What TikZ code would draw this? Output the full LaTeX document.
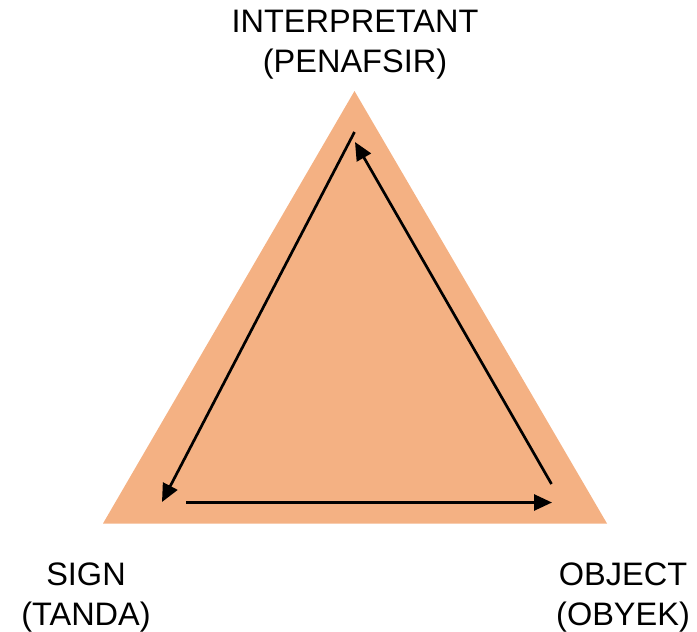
\documentclass[tikz,border=0pt]{standalone}
\usepackage{fontspec}
\setmainfont{Liberation Sans}
\usetikzlibrary{arrows.meta}
\begin{document}
\begin{tikzpicture}[x=1pt,y=-1pt,
  lbl/.style={font=\fontsize{32.5}{40}\selectfont, align=center, inner sep=0pt},
  arr/.style={line width=2.7pt, -{Triangle[length=18pt,width=16pt]}}]
\useasboundingbox (0,0) rectangle (697,632);
\definecolor{tri}{HTML}{F4B183}
\coordinate (A) at (354.5,91);
\coordinate (B) at (103,523.5);
\coordinate (C) at (607,523.5);
\fill[tri] (A) -- (B) -- (C) -- cycle;
\coordinate (a1s) at (354.5,132);
\coordinate (a1e) at (162,502);
\coordinate (a2s) at (186,502.5);
\coordinate (a2e) at (552,502.5);
\coordinate (a3s) at (551.5,484);
\coordinate (a3e) at (355,142);
\draw[arr] (a1s) -- (a1e);
\draw[arr] (a2s) -- (a2e);
\draw[arr] (a3s) -- (a3e);
\node[lbl] (top) at (355,44.5) {INTERPRETANT\\(PENAFSIR)};
\node[lbl] (sign) at (86,598) {SIGN\\(TANDA)};
\node[lbl] (obj) at (623,598) {OBJECT\\(OBYEK)};
\end{tikzpicture}
\end{document}
